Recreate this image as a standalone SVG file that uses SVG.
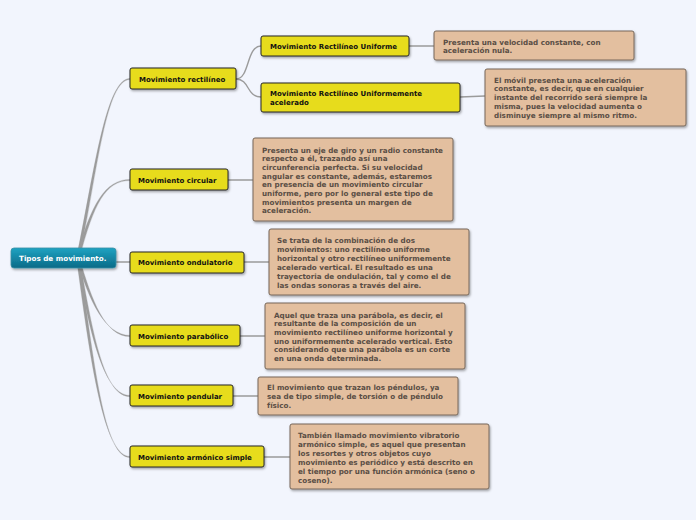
<svg xmlns="http://www.w3.org/2000/svg" width="696" height="520" viewBox="0 0 696 520">
<defs>
<linearGradient id="rootG" x1="0" y1="0" x2="0" y2="1">
<stop offset="0" stop-color="#1ea3c2"/>
<stop offset="1" stop-color="#0b6a87"/>
</linearGradient>
<filter id="sh" x="-10%" y="-10%" width="120%" height="140%">
<feDropShadow dx="1" dy="1.5" stdDeviation="0.8" flood-color="#000" flood-opacity="0.35"/>
</filter>
</defs>
<style>
.bg{fill:#f2f5fd}
.con{fill:none;stroke:#9b9b9b;stroke-width:1.4;stroke-linecap:round}
.tap{fill:#9b9b9b;stroke:#9b9b9b;stroke-width:0.3}
.node{fill:#e7dc1b;stroke:#262626;stroke-width:1;filter:url(#sh)}
.note{fill:#e3bf9f;stroke:#76675a;stroke-width:1;filter:url(#sh)}
.root{fill:url(#rootG);stroke:#3b8fa6;stroke-width:0.8;filter:url(#sh)}
.lbl{font-family:"DejaVu Sans",Verdana,sans-serif;font-weight:bold;font-size:7px;fill:#111}
.rl{font-family:"DejaVu Sans",Verdana,sans-serif;font-weight:bold;font-size:7.2px;fill:#fff}
.nt{font-family:"DejaVu Sans",Verdana,sans-serif;font-weight:bold;font-size:7.2px;fill:#5a4e45}
</style>
<rect class="bg" x="0" y="0" width="696" height="520"/>
<g id="connectors">
<path class="tap" d="M76.5,258 C94.5,170 106,78.4 130,78.4 L130,79.6 C106,79.6 97.5,170 79.5,258 Z"/>
<path class="tap" d="M76.5,258 C90.5,205 105,179.4 130,179.4 L130,180.6 C105,180.6 93.5,205 79.5,258 Z"/>
<path class="con" d="M112,262 L130,262"/>
<path class="tap" d="M76.5,258 C88.5,300 105,335.4 130,335.4 L130,336.6 C105,336.6 91.5,300 79.5,258 Z"/>
<path class="tap" d="M76.5,258 C90.5,340 105,395.4 130,395.4 L130,396.6 C105,396.6 93.5,340 79.5,258 Z"/>
<path class="tap" d="M76.5,258 C92.5,380 106,456.4 130,456.4 L130,457.6 C106,457.6 95.5,380 79.5,258 Z"/>
<path class="con" d="M236,79 C250,79 246,46 261,46"/>
<path class="con" d="M236,79 C250,79 246,97 261,97"/>
<path class="con" d="M409,46 L434,46"/>
<path class="con" d="M460,97 L485,96"/>
<path class="con" d="M228,180 L253,180"/>
<path class="con" d="M244,262 L269,262"/>
<path class="con" d="M240,336 L265,336"/>
<path class="con" d="M233,396 L258,396"/>
<path class="con" d="M264,457 L290,457"/>
</g>
<g id="root">
<rect class="root" x="11" y="248" width="105" height="20" rx="3"/>
<text class="rl" x="19" y="261">Tipos de movimiento.</text>
</g>
<g id="rectilineo">
<rect class="node" x="130" y="68" width="106" height="21" rx="2"/>
<text class="lbl" x="139" y="81.5">Movimiento rectilíneo</text>
</g>
<g id="mru">
<rect class="node" x="261" y="36" width="148" height="20" rx="2"/>
<text class="lbl" x="270" y="48.5">Movimiento Rectilíneo Uniforme</text>
</g>
<g id="mru-note">
<rect class="note" x="434" y="31" width="200" height="29" rx="2"/>
<text class="nt" x="443" y="44.5">Presenta una velocidad constante, con</text>
<text class="nt" x="443" y="52.8">aceleración nula.</text>
</g>
<g id="mrua">
<rect class="node" x="261" y="83" width="199" height="29" rx="2"/>
<text class="lbl" x="270" y="95.5">Movimiento Rectilíneo Uniformemente</text>
<text class="lbl" x="270" y="104.5">acelerado</text>
</g>
<g id="mrua-note">
<rect class="note" x="485" y="69" width="201" height="57" rx="2"/>
<text class="nt" x="494" y="82.5">El móvil presenta una aceleración</text>
<text class="nt" x="494" y="91.4">constante, es decir, que en cualquier</text>
<text class="nt" x="494" y="100.3">instante del recorrido será siempre la</text>
<text class="nt" x="494" y="109.2">misma, pues la velocidad aumenta o</text>
<text class="nt" x="494" y="118.1">disminuye siempre al mismo ritmo.</text>
</g>
<g id="circular">
<rect class="node" x="130" y="169" width="98" height="21" rx="2"/>
<text class="lbl" x="138" y="182.5">Movimiento circular</text>
</g>
<g id="circular-note">
<rect class="note" x="253" y="138" width="200" height="83" rx="2"/>
<text class="nt" x="262" y="152.5">Presenta un eje de giro y un radio constante</text>
<text class="nt" x="262" y="161.2">respecto a él, trazando así una</text>
<text class="nt" x="262" y="169.9">circunferencia perfecta. Si su velocidad</text>
<text class="nt" x="262" y="178.6">angular es constante, además, estaremos</text>
<text class="nt" x="262" y="187.3">en presencia de un movimiento circular</text>
<text class="nt" x="262" y="196">uniforme, pero por lo general este tipo de</text>
<text class="nt" x="262" y="204.7">movimientos presenta un margen de</text>
<text class="nt" x="262" y="213.4">aceleración.</text>
</g>
<g id="ondulatorio">
<rect class="node" x="130" y="252" width="114" height="21" rx="2"/>
<text class="lbl" x="138" y="265">Movimiento ondulatorio</text>
</g>
<g id="ondulatorio-note">
<rect class="note" x="269" y="229" width="200" height="66" rx="2"/>
<text class="nt" x="277" y="243">Se trata de la combinación de dos</text>
<text class="nt" x="277" y="251.9">movimientos: uno rectilíneo uniforme</text>
<text class="nt" x="277" y="260.8">horizontal y otro rectilíneo uniformemente</text>
<text class="nt" x="277" y="269.7">acelerado vertical. El resultado es una</text>
<text class="nt" x="277" y="278.6">trayectoria de ondulación, tal y como el de</text>
<text class="nt" x="277" y="287.5">las ondas sonoras a través del aire.</text>
</g>
<g id="parabolico">
<rect class="node" x="130" y="325" width="110" height="21" rx="2"/>
<text class="lbl" x="138" y="338.5">Movimiento parabólico</text>
</g>
<g id="parabolico-note">
<rect class="note" x="265" y="303" width="200" height="66" rx="2"/>
<text class="nt" x="274" y="317.5">Aquel que traza una parábola, es decir, el</text>
<text class="nt" x="274" y="326.2">resultante de la composición de un</text>
<text class="nt" x="274" y="334.9">movimiento rectilíneo uniforme horizontal y</text>
<text class="nt" x="274" y="343.6">uno uniformemente acelerado vertical. Esto</text>
<text class="nt" x="274" y="352.3">considerando que una parábola es un corte</text>
<text class="nt" x="274" y="361">en una onda determinada.</text>
</g>
<g id="pendular">
<rect class="node" x="130" y="385" width="103" height="21" rx="2"/>
<text class="lbl" x="138" y="398.5">Movimiento pendular</text>
</g>
<g id="pendular-note">
<rect class="note" x="258" y="377" width="200" height="38" rx="2"/>
<text class="nt" x="267" y="390">El movimiento que trazan los péndulos, ya</text>
<text class="nt" x="267" y="399">sea de tipo simple, de torsión o de péndulo</text>
<text class="nt" x="267" y="408">físico.</text>
</g>
<g id="armonico">
<rect class="node" x="130" y="446" width="134" height="21" rx="2"/>
<text class="lbl" x="138" y="459.5">Movimiento armónico simple</text>
</g>
<g id="armonico-note">
<rect class="note" x="290" y="424" width="199" height="65" rx="2"/>
<text class="nt" x="298" y="437.5">También llamado movimiento vibratorio</text>
<text class="nt" x="298" y="446.6">armónico simple, es aquel que presentan</text>
<text class="nt" x="298" y="455.7">los resortes y otros objetos cuyo</text>
<text class="nt" x="298" y="464.8">movimiento es periódico y está descrito en</text>
<text class="nt" x="298" y="473.9">el tiempo por una función armónica (seno o</text>
<text class="nt" x="298" y="483">coseno).</text>
</g>
</svg>
